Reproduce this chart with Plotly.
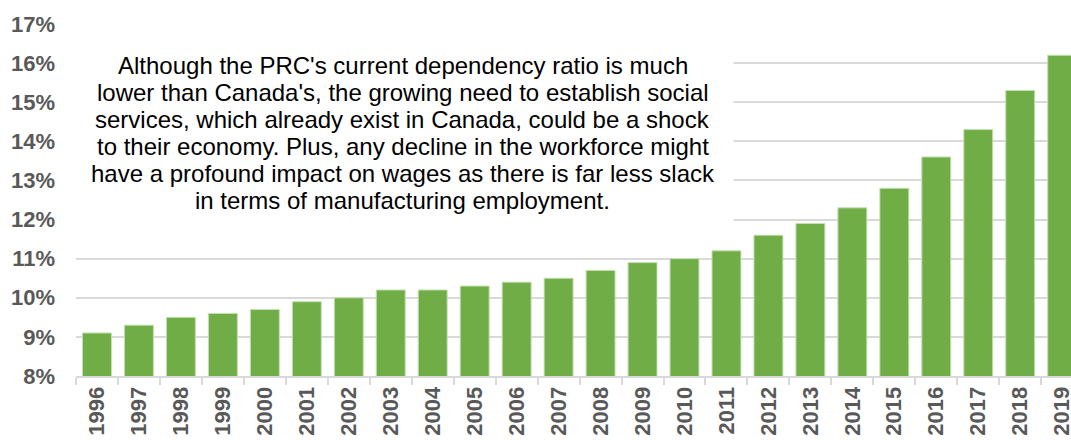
import plotly.graph_objects as go

years = [str(y) for y in range(1996, 2020)]
values = [9.1, 9.3, 9.5, 9.6, 9.7, 9.9, 10.0, 10.2, 10.2, 10.3, 10.4, 10.5,
          10.7, 10.9, 11.0, 11.2, 11.6, 11.9, 12.3, 12.8, 13.6, 14.3, 15.3, 16.2]
ytick_vals = [8, 9, 10, 11, 12, 13, 14, 15, 16, 17]
ytick_text = [f"{v}%" for v in ytick_vals]
note_lines = [
    "Although the PRC's current dependency ratio is much",
    "lower than Canada's, the growing need to establish social",
    "services, which already exist in Canada, could be a shock",
    "to their economy. Plus, any decline in the workforce might",
    "have a profound impact on wages as there is far less slack",
    "in terms of manufacturing employment.",
]

FONT = "Liberation Sans, Arial, sans-serif"
GRID = "#d9d9d9"
LABEL = "#595959"

fig = go.Figure()
fig.add_trace(go.Bar(
    x=years, y=values,
    marker=dict(color="#70AD47", line=dict(color="#c5e0b4", width=1)),
    cliponaxis=True,
))

fig.add_shape(type="rect", xref="x", yref="y", x0=-0.5, x1=15.17, y0=11.85, y1=16.7,
              fillcolor="white", line=dict(width=0), layer="between")

# pixel -> data helper for text placement (plot area 24..376 px for 17..8)
def py_to_y(py):
    return 8 + (376 - py) / (352 / 9)

for i, line in enumerate(note_lines):
    fig.add_annotation(text=line, xref="x", yref="y", x=7.29, y=py_to_y(65 + i * 27),
                       showarrow=False, xanchor="center", yanchor="middle", align="center",
                       font=dict(family=FONT, size=24, color="#000000"))

fig.update_layout(
    width=1071, height=440,
    margin=dict(l=76, r=0, t=24, b=64, autoexpand=False),
    paper_bgcolor="white", plot_bgcolor="white",
    bargap=0.31, showlegend=False,
    font=dict(family=FONT),
)
fig.update_xaxes(
    type="category", range=[-0.5, 23.21],
    showline=True, linecolor=GRID, linewidth=2,
    ticks="outside", tickson="boundaries", ticklen=7, tickcolor=GRID, tickwidth=2,
    tickangle=-90, showgrid=False, automargin=False,
    tickfont=dict(family=FONT, size=22, color=LABEL, weight="bold"),
)
fig.update_yaxes(
    range=[8, 17], tickvals=ytick_vals, ticktext=ytick_text,
    showgrid=True, gridcolor=GRID, gridwidth=2, zeroline=False,
    ticks="", ticklabelstandoff=20, automargin=False,
    tickfont=dict(family=FONT, size=22, color=LABEL, weight="bold"),
)

fig.write_html("out.html")
